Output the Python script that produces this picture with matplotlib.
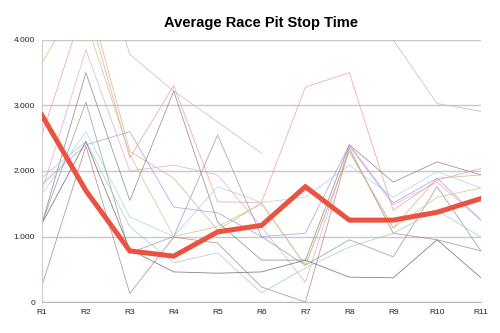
import numpy as np
import matplotlib
matplotlib.use("Agg")
import matplotlib.pyplot as plt
from matplotlib.ticker import FuncFormatter

plt.rcParams['font.family'] = ['Liberation Sans', 'DejaVu Sans']

races = ["R1", "R2", "R3", "R4", "R5", "R6", "R7", "R8", "R9", "R10", "R11"]

# average pit stop time over all teams
average = [2850, 1700, 780, 700, 1070, 1170, 1760, 1250, 1250, 1370, 1580]

# individual teams
nan = np.nan
team_a = [nan, 6000, 3780, 3220, 2750, 2270, nan, nan, 4000, 3030, 2910]
team_b = [3650, 4800, 2300, 1890, 1100, 1510, 560, 2300, 1130, 1890, 1940]
team_c = [2550, 4600, 2200, 3300, 1530, 1520, 3280, 3500, 1400, 1860, 2040]
team_d = [1700, 3850, 2000, 2090, 1940, 1150, 300, 2380, 1480, 1830, 1250]
team_e = [1200, 3500, 1550, 3220, 1220, 640, 640, 2400, 1830, 2140, 1940]
team_f = [1800, 2400, 2600, 1450, 1360, 1000, 1050, 2400, 1510, 1890, 1250]
team_g = [1650, 2600, 1300, 1000, 1760, 1520, 1600, 2090, 1600, 1990, 1740]
team_h = [1200, 3050, 750, 1000, 2550, 1000, 560, 950, 690, 1760, 780]
team_i = [250, 2380, 130, 990, 900, 230, 0, 2350, 1050, 950, 780]
team_j = [1900, 2450, 1150, 600, 750, 140, 520, 840, 1050, 1400, 990]
team_k = [1200, 2450, 800, 460, 440, 460, 640, 380, 370, 950, 370]
team_l = [nan, 4300, 2250, 1000, 1150, 1500, 560, 2300, 1130, 1600, 1740]

teams = [team_a, team_b, team_c, team_d, team_e, team_f,
         team_g, team_h, team_i, team_j, team_k, team_l]
team_colors = ["#bdbdbd", "#d9b38c", "#f2a092", "#e6a8d8", "#8a8a8a", "#a89be6",
               "#a6d4ea", "#9c9c9c", "#b98686", "#9fcfcf", "#6f6f6f", "#cfc48a"]

fig = plt.figure(figsize=(5, 3.33), dpi=100)
ax = fig.add_axes([0.084, 0.093, 0.878, 0.787])

x = np.arange(len(races))
for vals, c in zip(teams, team_colors):
    ax.plot(x, vals, color=c, lw=0.6, alpha=0.85, zorder=2)

ax.plot(x, average, color="#e9533f", lw=3.6, zorder=3, solid_joinstyle="miter")

ax.set_xlim(0, len(races) - 1)
ax.set_ylim(0, 4000)
ax.set_xticks(x)
ax.set_xticklabels(races)
ax.set_yticks([0, 1000, 2000, 3000, 4000])
ax.yaxis.set_major_formatter(FuncFormatter(lambda v, p: f"{int(v):,}".replace(",", ".")))
ax.tick_params(length=0, labelsize=6, colors="#222222", pad=5)

ax.grid(axis="y", color="#c8c8c8", lw=1)
ax.set_axisbelow(True)
for s in ["top", "right"]:
    ax.spines[s].set_visible(False)
ax.spines["left"].set_color("#cccccc")
ax.spines["bottom"].set_color("#bbbbbb")

fig.text(0.523, 0.93, "Average Race Pit Stop Time", ha="center", va="center",
         fontsize=10.5, fontweight="bold")

fig.savefig("out.png", dpi=100)
